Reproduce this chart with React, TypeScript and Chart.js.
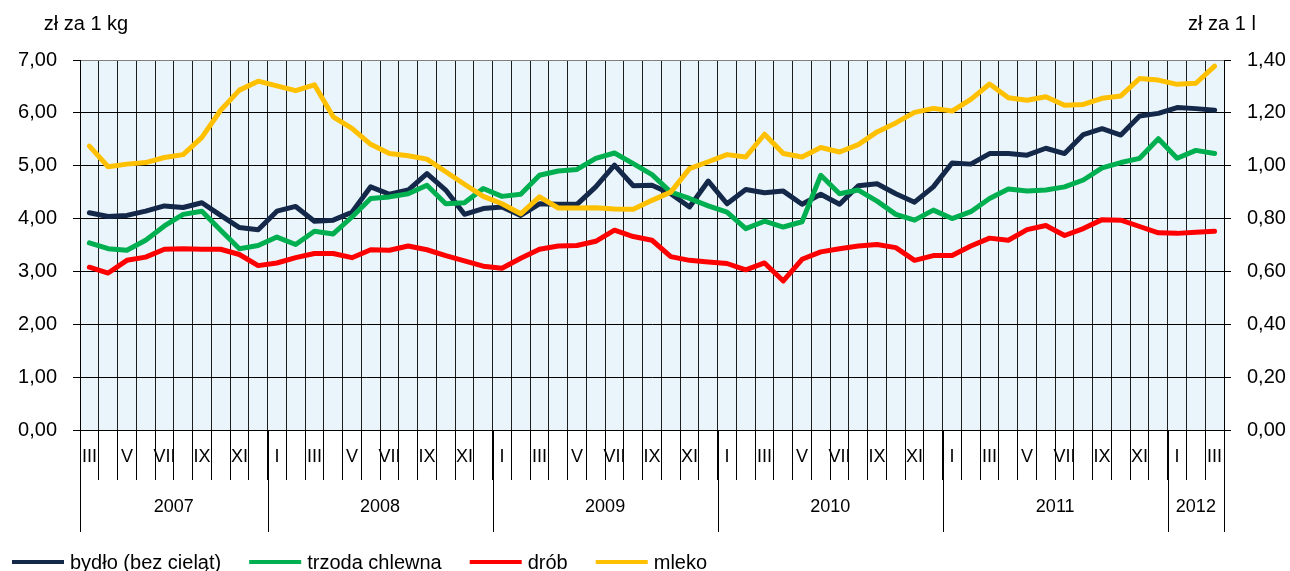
import { useEffect, useRef } from "react";
import { Chart, registerables } from "chart.js";

Chart.register(...registerables);

// ---- Data (March 2007 – March 2012, monthly) ----
const ROMAN = ["I", "II", "III", "IV", "V", "VI", "VII", "VIII", "IX", "X", "XI", "XII"];
const YEARS = ["2007", "2008", "2009", "2010", "2011", "2012"];
const YEAR_FIRST_MONTH = [3, 1, 1, 1, 1, 1];
const YEAR_LAST_MONTH = [12, 12, 12, 12, 12, 3];

const SERIES_NAMES = ["bydło (bez cieląt)", "trzoda chlewna", "drób", "mleko"];
const SERIES_COLORS = ["#14284A", "#00B050", "#FF0000", "#FFC000"];

// zł za 1 kg
const bydlo = [
  4.11, 4.04, 4.06, 4.14, 4.24, 4.21, 4.30, 4.06, 3.83, 3.79,
  4.14, 4.23, 3.95, 3.97, 4.12, 4.60, 4.46, 4.54, 4.85, 4.54, 4.08, 4.19,
  4.22, 4.06, 4.28, 4.27, 4.27, 4.60, 5.01, 4.62, 4.63, 4.47, 4.22, 4.71,
  4.28, 4.55, 4.49, 4.52, 4.27, 4.46, 4.27, 4.62, 4.66, 4.47, 4.31, 4.60,
  5.05, 5.03, 5.23, 5.23, 5.20, 5.33, 5.23, 5.59, 5.70, 5.58, 5.94, 5.99,
  6.10, 6.08, 6.05,
];
const trzoda = [
  3.54, 3.43, 3.40, 3.59, 3.86, 4.08, 4.14, 3.78, 3.43, 3.49,
  3.65, 3.51, 3.76, 3.71, 4.03, 4.38, 4.41, 4.47, 4.63, 4.28, 4.30, 4.57,
  4.42, 4.46, 4.82, 4.90, 4.93, 5.14, 5.24, 5.04, 4.83, 4.50, 4.38, 4.24,
  4.12, 3.81, 3.95, 3.84, 3.94, 4.82, 4.47, 4.54, 4.33, 4.08, 3.97, 4.16,
  4.00, 4.13, 4.38, 4.56, 4.52, 4.54, 4.60, 4.73, 4.96, 5.06, 5.14, 5.51,
  5.14, 5.29, 5.23,
];
const drob = [
  3.08, 2.97, 3.21, 3.27, 3.42, 3.43, 3.42, 3.42, 3.32, 3.11,
  3.16, 3.26, 3.34, 3.34, 3.26, 3.41, 3.40, 3.48, 3.41, 3.30, 3.20, 3.10,
  3.06, 3.25, 3.42, 3.48, 3.49, 3.57, 3.78, 3.66, 3.59, 3.28, 3.21, 3.18,
  3.15, 3.03, 3.16, 2.82, 3.23, 3.37, 3.43, 3.48, 3.51, 3.45, 3.21, 3.30,
  3.30, 3.48, 3.63, 3.59, 3.79, 3.87, 3.68, 3.81, 3.98, 3.97, 3.85, 3.73,
  3.72, 3.74, 3.76,
];
// zł za 1 l
const mleko = [
  1.074, 0.996, 1.006, 1.012, 1.031, 1.042, 1.107, 1.210, 1.286, 1.320,
  1.302, 1.284, 1.306, 1.185, 1.141, 1.081, 1.046, 1.038, 1.025, 0.977, 0.930, 0.884,
  0.856, 0.818, 0.882, 0.840, 0.840, 0.841, 0.836, 0.835, 0.869, 0.900, 0.989, 1.015,
  1.042, 1.033, 1.119, 1.046, 1.033, 1.069, 1.052, 1.080, 1.128, 1.162, 1.202, 1.217,
  1.207, 1.251, 1.309, 1.257, 1.248, 1.261, 1.229, 1.232, 1.255, 1.264, 1.330, 1.324,
  1.308, 1.312, 1.377,
];

// categories built from the year/month tables
const catMonth: number[] = [];
const catYear: number[] = [];
const categories: string[] = [];
YEARS.forEach((y, yi) => {
  for (let m = YEAR_FIRST_MONTH[yi]; m <= YEAR_LAST_MONTH[yi]; m++) {
    catMonth.push(m);
    catYear.push(yi);
    categories.push(`${ROMAN[m - 1]} ${y}`);
  }
});

const FONT = "'Liberation Sans', Arial, Helvetica, sans-serif";
const fmt = (v: number) => Number(v).toFixed(2).replace(".", ",");

const backgroundPlugin = {
  id: "plotBg",
  beforeDraw(chart: any) {
    const { ctx, chartArea } = chart;
    ctx.save();
    ctx.fillStyle = "#EAF4FB";
    ctx.fillRect(chartArea.left, chartArea.top, chartArea.right - chartArea.left, chartArea.bottom - chartArea.top);
    ctx.restore();
  },
};

const decorPlugin = {
  id: "decor",
  afterDraw(chart: any) {
    const { ctx, chartArea } = chart;
    const x = chart.scales.x;
    const yL = chart.scales.y;
    const yR = chart.scales.y1;
    const step = x.getPixelForValue(1) - x.getPixelForValue(0);
    ctx.save();
    // year row
    ctx.strokeStyle = "#000";
    ctx.lineWidth = 1;
    ctx.fillStyle = "#000";
    ctx.font = `18px ${FONT}`;
    ctx.textAlign = "center";
    ctx.textBaseline = "middle";
    const yTop = chartArea.bottom;
    const yBot = chartArea.bottom + 102;
    YEARS.forEach((label, yi) => {
      const first = catYear.indexOf(yi);
      const last = catYear.lastIndexOf(yi);
      const l = x.getPixelForValue(first) - step / 2;
      const r = x.getPixelForValue(last) + step / 2;
      [l, r].forEach((px) => {
        const p = Math.round(px) + 0.5;
        ctx.beginPath();
        ctx.moveTo(p, yTop);
        ctx.lineTo(p, yBot);
        ctx.stroke();
      });
      ctx.fillText(label, (l + r) / 2, chartArea.bottom + 77);
    });
    // unit titles
    ctx.font = `20px ${FONT}`;
    ctx.fillText("zł za 1 kg", yL.right + 6, 24);
    ctx.fillText("zł za 1 l", yR.left - 2, 24);
    // legend
    ctx.textAlign = "left";
    let lx = 12;
    const ly = 562;
    ctx.font = `20px ${FONT}`;
    SERIES_NAMES.forEach((name, i) => {
      ctx.strokeStyle = SERIES_COLORS[i];
      ctx.lineWidth = 4;
      ctx.beginPath();
      ctx.moveTo(lx, ly);
      ctx.lineTo(lx + 52, ly);
      ctx.stroke();
      ctx.fillStyle = "#000";
      ctx.fillText(name, lx + 58, ly + 1);
      lx += 58 + ctx.measureText(name).width + 28;
    });
    ctx.restore();
  },
};

export default function App() {
  const ref = useRef<HTMLCanvasElement>(null);
  useEffect(() => {
    if (!ref.current) return;
    const lineDs = (label: string, data: number[], color: string, axis: string, order: number) => ({
      label,
      data,
      borderColor: color,
      backgroundColor: color,
      borderWidth: 5,
      pointRadius: 0,
      pointHoverRadius: 0,
      tension: 0,
      fill: false,
      borderJoinStyle: "round" as const,
      borderCapStyle: "round" as const,
      yAxisID: axis,
      order,
    });
    const chart = new Chart(ref.current, {
      type: "line",
      data: {
        labels: categories,
        datasets: [
          lineDs(SERIES_NAMES[0], bydlo, SERIES_COLORS[0], "y", 4),
          lineDs(SERIES_NAMES[1], trzoda, SERIES_COLORS[1], "y", 3),
          lineDs(SERIES_NAMES[2], drob, SERIES_COLORS[2], "y", 2),
          lineDs(SERIES_NAMES[3], mleko, SERIES_COLORS[3], "y1", 1),
        ],
      },
      options: {
        responsive: false,
        animation: false,
        devicePixelRatio: 1,
        layout: { padding: { top: 60, left: 0, right: 0, bottom: 91 } },
        plugins: {
          legend: { display: false },
          tooltip: { enabled: false },
          title: { display: false },
        },
        scales: {
          x: {
            type: "category",
            offset: true,
            grid: {
              offset: true,
              color: "#1e1e1e",
              lineWidth: 1,
              drawTicks: true,
              tickLength: 50,
              tickColor: "#000",
            },
            border: { display: true, color: "#000", width: 1 },
            ticks: {
              autoSkip: false,
              maxRotation: 0,
              minRotation: 0,
              padding: -34,
              color: "#000",
              font: { family: FONT, size: 18 },
              callback: (_v: any, i: number) => (catMonth[i] % 2 === 1 ? ROMAN[catMonth[i] - 1] : ""),
            },
            afterFit: (s: any) => {
              s.height = 50;
            },
          },
          y: {
            position: "left",
            min: 0,
            max: 7,
            ticks: {
              stepSize: 1,
              padding: 16,
              color: "#000",
              font: { family: FONT, size: 20 },
              callback: (v: any) => fmt(v),
            },
            grid: {
              color: (c: any) => (c.tick && c.tick.value === 7 ? "#7f7f7f" : "#000"),
              lineWidth: 1,
              tickLength: 7,
              tickColor: "#000",
            },
            border: { display: true, color: "#000", width: 1 },
            afterFit: (s: any) => {
              s.width = 80;
            },
          },
          y1: {
            position: "right",
            min: 0,
            max: 1.4,
            ticks: {
              stepSize: 0.2,
              padding: 16,
              color: "#000",
              font: { family: FONT, size: 20 },
              callback: (v: any) => fmt(v),
            },
            grid: {
              drawOnChartArea: false,
              tickLength: 7,
              tickColor: "#000",
            },
            border: { display: true, color: "#000", width: 1 },
            afterFit: (s: any) => {
              s.width = 66;
            },
          },
        },
      },
      plugins: [backgroundPlugin, decorPlugin],
    } as any);
    return () => chart.destroy();
  }, []);
  return (
    <div style={{ position: "absolute", left: 0, top: 0, width: 1290, height: 571, background: "#fff" }}>
      <canvas ref={ref} width={1290} height={571} style={{ display: "block" }} />
    </div>
  );
}
